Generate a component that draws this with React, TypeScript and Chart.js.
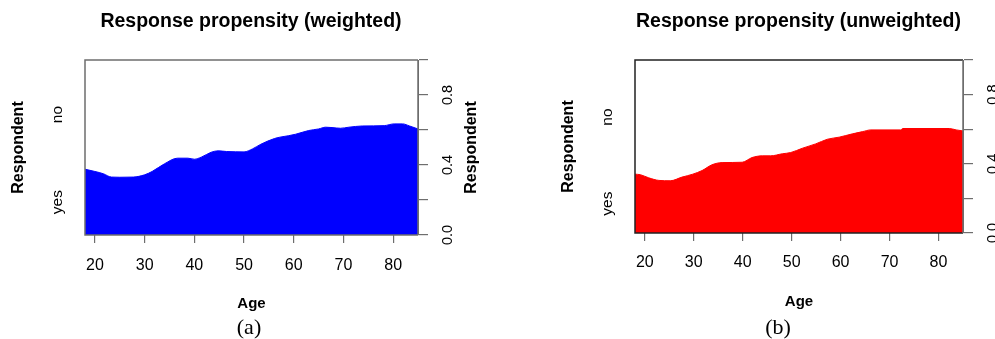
import React, { useEffect, useRef } from "react";
import { Chart, registerables } from "chart.js";

Chart.register(...registerables);

// ---- data ----
const weightedAge = [18, 20, 21.7, 23.3, 25, 27.7, 30, 31.5, 34, 36.6, 38.7, 40, 41.4, 43.4, 44.8, 46.5, 50, 51.7, 53.4, 56.1, 57.2, 58.9, 60.4, 63, 65, 66.4, 67.7, 69.4, 71.1, 73.8, 78.2, 80.2, 81.9, 83.3, 85];
const weightedYes = [0.376, 0.363, 0.35, 0.331, 0.33, 0.331, 0.344, 0.363, 0.407, 0.439, 0.439, 0.433, 0.445, 0.473, 0.481, 0.477, 0.475, 0.492, 0.519, 0.551, 0.559, 0.567, 0.576, 0.597, 0.606, 0.616, 0.614, 0.61, 0.616, 0.623, 0.625, 0.635, 0.635, 0.623, 0.606];
const unweightedAge = [18, 19.1, 20.8, 22.9, 25.2, 27.6, 29.8, 31.7, 33.7, 35.8, 39.9, 41.9, 44, 45.7, 48.1, 49.8, 52.2, 54.9, 57.3, 59.7, 62.4, 64.5, 66.2, 72.3, 72.7, 82.2, 83.6, 85];
const unweightedYes = [0.34, 0.337, 0.319, 0.304, 0.302, 0.323, 0.34, 0.361, 0.394, 0.407, 0.409, 0.436, 0.446, 0.446, 0.458, 0.465, 0.49, 0.515, 0.542, 0.554, 0.573, 0.586, 0.596, 0.596, 0.604, 0.604, 0.596, 0.59];

const ageRange = [18, 85];
const ageTicks = [20, 30, 40, 50, 60, 70, 80];
const propTicks = [0, 0.2, 0.4, 0.6, 0.8, 1];
const propLabelValues = [0, 0.4, 0.8];
const propLabels = ["0.0", "0.4", "0.8"];
const responseCategories = ["yes", "no"];
const panelTitles = ["Response propensity (weighted)", "Response propensity (unweighted)"];
const panelCaptions = ["(a)", "(b)"];
const xAxisTitle = "Age";
const yAxisTitle = "Respondent";

// ---- layout / style ----
const SANS = '"Liberation Sans", Arial, sans-serif';
const SERIF = '"Liberation Serif", "Times New Roman", serif';
const H = 339;

type PanelSpec = {
  idx: number;
  ages: number[];
  values: number[];
  canvasLeft: number;
  width: number;
  area: { left: number; top: number; right: number; bottom: number };
  color: string;
  boxColor: string;
  axisColor: string;
  titleX: number;
  ageX: number;
  ageY: number;
  capX: number;
  capY: number;
  tickPad: number;
};

const panels: PanelSpec[] = [
  {
    idx: 0,
    ages: weightedAge,
    values: weightedYes,
    canvasLeft: 0,
    width: 497,
    area: { left: 85, top: 60, right: 418, bottom: 235 },
    color: "#0000ff",
    boxColor: "#6e6e6e",
    axisColor: "#6e6e6e",
    titleX: 251,
    ageX: 251.5,
    ageY: 304,
    capX: 249,
    capY: 328,
    tickPad: 13,
  },
  {
    idx: 1,
    ages: unweightedAge,
    values: unweightedYes,
    canvasLeft: 497,
    width: 498,
    area: { left: 138, top: 60, right: 466, bottom: 233 },
    color: "#ff0000",
    boxColor: "#222222",
    axisColor: "#6e6e6e",
    titleX: 301.5,
    ageX: 302,
    ageY: 302,
    capX: 281,
    capY: 328,
    tickPad: 12,
  },
];

function rotText(ctx: CanvasRenderingContext2D, text: string, x: number, y: number, font: string) {
  ctx.save();
  ctx.translate(x, y);
  ctx.rotate(-Math.PI / 2);
  ctx.font = font;
  ctx.textAlign = "center";
  ctx.textBaseline = "middle";
  ctx.fillStyle = "#000";
  ctx.fillText(text, 0, 0);
  ctx.restore();
}

const annotPlugin = {
  id: "annot",
  afterDatasetsDraw(chart: any, _args: any, opts: any) {
    const spec: PanelSpec = opts.spec;
    const { ctx, chartArea: a } = chart;
    const y = chart.scales.y;
    ctx.save();
    // box
    ctx.lineWidth = 1.5;
    ctx.strokeStyle = spec.boxColor;
    ctx.beginPath();
    ctx.moveTo(a.right, a.top);
    ctx.lineTo(a.left, a.top);
    ctx.lineTo(a.left, a.bottom);
    ctx.lineTo(a.right, a.bottom);
    ctx.stroke();
    ctx.strokeStyle = spec.axisColor;
    ctx.beginPath();
    ctx.moveTo(a.right, a.top);
    ctx.lineTo(a.right, a.bottom);
    ctx.stroke();

    // title
    ctx.fillStyle = "#000";
    ctx.font = `bold 19.5px ${SANS}`;
    ctx.textAlign = "center";
    ctx.textBaseline = "middle";
    ctx.fillText(panelTitles[spec.idx], spec.titleX, 22);

    // x title
    ctx.font = `bold 15px ${SANS}`;
    ctx.fillText(xAxisTitle, spec.ageX, spec.ageY);

    // caption
    ctx.font = `22px ${SERIF}`;
    ctx.fillText(panelCaptions[spec.idx], spec.capX, spec.capY);

    // left axis: category labels at midpoints of the bands at the left edge
    const first = spec.values[0];
    const mids = [first / 2, (1 + first) / 2];
    responseCategories.forEach((lab, i) => {
      rotText(ctx, lab, a.left - 27, y.getPixelForValue(mids[i]), `15.5px ${SANS}`);
    });
    rotText(ctx, yAxisTitle, a.left - 66, (a.top + a.bottom) / 2, `bold 16px ${SANS}`);

    // right axis labels
    propLabelValues.forEach((v, i) => {
      rotText(ctx, propLabels[i], a.right + 29.5, y.getPixelForValue(v), `14.5px ${SANS}`);
    });
    rotText(ctx, yAxisTitle, a.right + 53.5, (a.top + a.bottom) / 2, `bold 16px ${SANS}`);
    ctx.restore();
  },
};

function Panel({ spec }: { spec: PanelSpec }) {
  const ref = useRef<HTMLCanvasElement | null>(null);
  useEffect(() => {
    if (!ref.current) return;
    const a = spec.area;
    const chart = new Chart(ref.current, {
      type: "line",
      data: {
        datasets: [
          {
            data: spec.ages.map((x, i) => ({ x, y: spec.values[i] })),
            backgroundColor: spec.color,
            borderColor: spec.color,
            borderWidth: 1,
            fill: "origin",
            pointRadius: 0,
            cubicInterpolationMode: "monotone",
          },
        ],
      },
      options: {
        animation: false,
        responsive: false,
        events: [],
        layout: { padding: { left: a.left, top: a.top, right: 0, bottom: 0 } },
        plugins: {
          legend: { display: false },
          tooltip: { enabled: false },
          title: { display: false },
          annot: { spec },
        } as any,
        scales: {
          x: {
            type: "linear",
            min: ageRange[0],
            max: ageRange[1],
            afterBuildTicks: (s: any) => {
              s.ticks = ageTicks.map((v) => ({ value: v }));
            },
            afterFit: (s: any) => {
              s.height = H - a.bottom;
            },
            grid: {
              drawOnChartArea: false,
              drawTicks: true,
              tickLength: 8,
              color: spec.axisColor,
              lineWidth: 1.2,
            },
            border: { display: false },
            ticks: {
              autoSkip: false,
              maxRotation: 0,
              minRotation: 0,
              padding: spec.tickPad - 0.5,
              color: "#000",
              font: { family: SANS, size: 16 },
              callback: (v: any) => String(v),
            },
          },
          y: {
            type: "linear",
            position: "right",
            min: 0,
            max: 1,
            afterBuildTicks: (s: any) => {
              s.ticks = propTicks.map((v) => ({ value: v }));
            },
            afterFit: (s: any) => {
              s.width = spec.width - a.right;
            },
            grid: {
              drawOnChartArea: false,
              drawTicks: true,
              tickLength: 10,
              color: spec.axisColor,
              lineWidth: 1.2,
            },
            border: { display: true, color: spec.axisColor },
            ticks: { display: false },
          },
        },
      },
      plugins: [annotPlugin],
    } as any);
    return () => chart.destroy();
  }, [spec]);
  return (
    <canvas
      ref={ref}
      width={spec.width}
      height={H}
      style={{ position: "absolute", left: spec.canvasLeft, top: 0, width: spec.width, height: H }}
    />
  );
}

export default function App() {
  return (
    <div style={{ position: "absolute", left: 0, top: 0, width: 995, height: H, background: "#fff", overflow: "hidden" }}>
      {panels.map((p) => (
        <Panel key={p.idx} spec={p} />
      ))}
    </div>
  );
}
